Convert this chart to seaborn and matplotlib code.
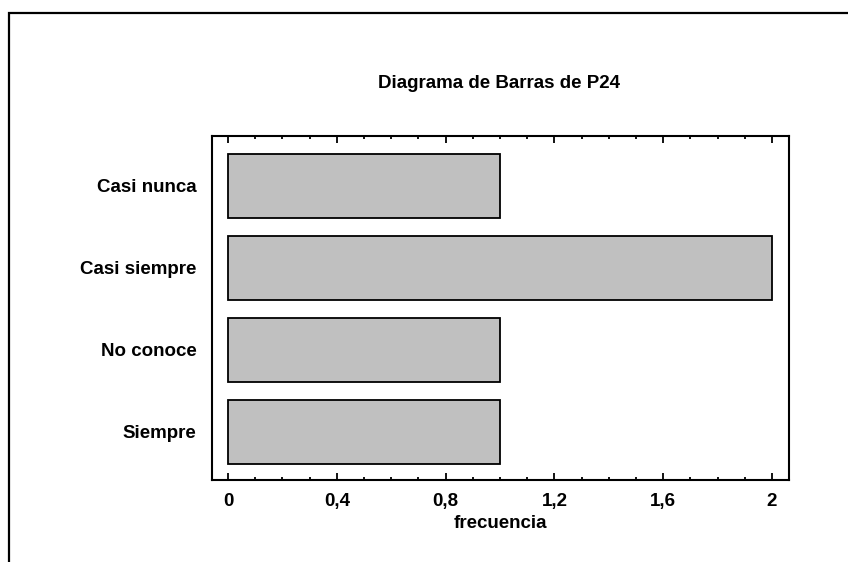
import matplotlib
matplotlib.use("Agg")
import matplotlib.pyplot as plt
import matplotlib.ticker as mticker
from matplotlib.patches import Rectangle
import pandas as pd
import seaborn as sns

# Data
categories = ["Casi nunca", "Casi siempre", "No conoce", "Siempre"]
frecuencia = [1, 2, 1, 1]
x_ticks = [0, 0.4, 0.8, 1.2, 1.6, 2.0]

df = pd.DataFrame({"categoria": categories, "frecuencia": frecuencia})

sns.set_style("white")
plt.rcParams['font.family'] = ['Liberation Sans', 'DejaVu Sans']
plt.rcParams['text.color'] = 'black'
plt.rcParams['xtick.color'] = 'black'
plt.rcParams['ytick.color'] = 'black'
plt.rcParams['axes.labelcolor'] = 'black'

fig = plt.figure(figsize=(8.48, 5.62), dpi=100)
ax = fig.add_axes([0.25, 0.1459, 0.6804, 0.6121])

sns.barplot(data=df, x="frecuencia", y="categoria", order=categories,
            color="#c0c0c0", saturation=1, edgecolor="black", linewidth=1.3,
            width=0.78, orient="h", ax=ax)

ax.set_xlim(-0.059, 2.0625)
ax.set_ylim(3.59, -0.61)

ax.xaxis.set_major_locator(mticker.FixedLocator(x_ticks))
ax.xaxis.set_minor_locator(mticker.MultipleLocator(0.1))
ax.xaxis.set_major_formatter(mticker.FuncFormatter(
    lambda v, p: ("%g" % round(v, 1)).replace(".", ",")))
ax.tick_params(axis="x", which="major", direction="in", length=5, width=1.3,
               top=True, bottom=True, labelsize=13.5, pad=9)
ax.tick_params(axis="x", which="minor", direction="in", length=2, width=1.3,
               top=True, bottom=True)
ax.tick_params(axis="y", length=0, labelsize=13.5, pad=11)
for lab in ax.get_xticklabels() + ax.get_yticklabels():
    lab.set_fontweight("bold")

for sp in ax.spines.values():
    sp.set_visible(True)
    sp.set_linewidth(1.5)
    sp.set_color("black")

ax.set_ylabel("")
ax.set_xlabel("frecuencia", fontsize=13.5, fontweight="bold", labelpad=4)
fig.text(0.588, 0.852, "Diagrama de Barras de P24", ha="center", va="center",
         fontsize=13.5, fontweight="bold")

# outer frame of the original graphics window
fig.patches.append(Rectangle((9 / 848, -0.1), 1.2, (562 - 13) / 562 + 0.1,
                             transform=fig.transFigure, fill=False,
                             edgecolor="black", linewidth=1.6))

fig.savefig("out.png", dpi=100)
